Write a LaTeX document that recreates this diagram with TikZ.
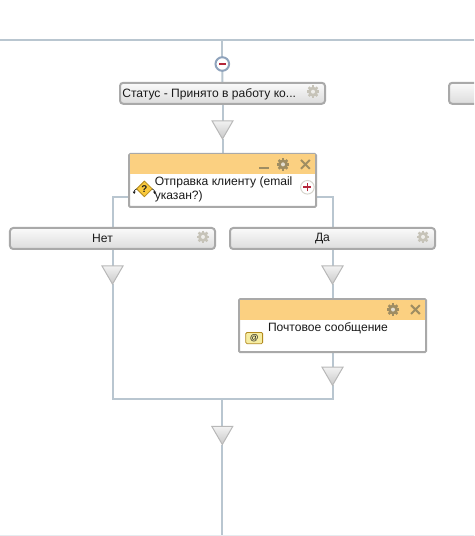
\documentclass[tikz,border=0pt]{standalone}
\usepackage{fontspec}
\setmainfont{Liberation Sans}
\usetikzlibrary{arrows.meta,positioning,shapes.geometric,calc,backgrounds}
\definecolor{ink}{HTML}{1A1A1A}
\definecolor{flowline}{HTML}{B9C6D0}
\definecolor{frame}{HTML}{A9A9A9}
\definecolor{headfill}{HTML}{FBD081}
\definecolor{gearlt}{HTML}{C6C3B8}
\definecolor{geardk}{HTML}{9F8D62}
\definecolor{btntop}{HTML}{FAFAFA}
\definecolor{btnbot}{HTML}{DCDCDC}
\definecolor{trifrm}{HTML}{B8B8B8}
\definecolor{tritop}{HTML}{F2F2F2}
\definecolor{tribot}{HTML}{C8C8C8}
\definecolor{redmark}{HTML}{B5263A}
\definecolor{minusrim}{HTML}{8FA3BC}
\definecolor{iconfill}{HTML}{F9C93C}
\definecolor{iconrim}{HTML}{B38A1E}
\definecolor{mailfill}{HTML}{F6EDA2}
\tikzset{
  txt/.style={font=\fontsize{8.6}{9.9}\selectfont, text=ink},
  button/.style={txt, draw=frame, line width=.5mm, rounded corners=.8mm, top color=btntop, bottom color=btnbot, minimum width=51.25mm, minimum height=5.25mm, inner sep=0pt, outer sep=0pt},
  actbox/.style={draw=frame, line width=.5mm, rounded corners=.3mm, fill=white, minimum width=46.75mm, minimum height=13.25mm, inner sep=0pt, outer sep=0pt},
  actbar/.style={fill=headfill, minimum width=46.25mm, minimum height=5mm, inner sep=0pt, outer sep=0pt},
  bodytxt/.style={txt, align=left, inner sep=0pt, outer sep=0pt},
  merge/.style={regular polygon, regular polygon sides=3, shape border rotate=180, minimum size=6.06mm, inner sep=0pt, outer sep=0pt, draw=trifrm, line width=.25mm, top color=tritop, bottom color=tribot},
  flow/.style={draw=flowline, line width=.5mm},
  minusbtn/.style={circle, draw=minusrim, line width=.5mm, fill=white, minimum size=3.4mm, inner sep=0pt, outer sep=0pt},
  plusbtn/.style={circle, draw=gearlt!70, line width=.25mm, fill=white, minimum size=3.4mm, inner sep=0pt, outer sep=0pt},
  askicon/.style={diamond, draw=iconrim, line width=.2mm, fill=iconfill, minimum size=3.9mm, inner sep=0pt, outer sep=0pt, font=\fontsize{7}{7}\selectfont\bfseries, text=ink},
  mailicon/.style={draw=iconrim, line width=.2mm, rounded corners=.3mm, fill=mailfill, minimum width=4.2mm, minimum height=2.8mm, inner sep=0pt, outer sep=0pt, font=\fontsize{6}{6}\selectfont\bfseries, text=ink},
  pics/gearicon/.style={code={
    \foreach \a in {0,45,...,135} \draw[#1, line width=.6mm] (\a:1.55mm)--(\a+180:1.55mm);
    \fill[#1] (0,0) circle (1.25mm);
    \fill[white!70!#1] (0,0) circle (.5mm);
  }},
  pics/closeicon/.style={code={
    \draw[geardk, line width=.5mm] (-1.1mm,-1.1mm)--(1.1mm,1.1mm) (-1.1mm,1.1mm)--(1.1mm,-1.1mm);
  }}
}
\begin{document}
\begin{tikzpicture}[x=.25mm,y=-.25mm]
\useasboundingbox (0,0) rectangle (474,536);
\clip (0,0) rectangle (474,536);
\coordinate (topl) at (0,40);
\coordinate (topr) at (474,40);
\coordinate (topm) at (222.3,40);
\coordinate (botl) at (0,535);
\coordinate (botr) at (474,535);
\node[minusbtn] (minus) at (222.3,64) {};
\node[button, below=3mm of minus, xshift=.05mm] (status) {};
\node[txt, inner sep=0pt, anchor=west] (statustxt) at ([xshift=.5mm,yshift=-.15mm]status.west) {Статус - Принято в работу ко...};
\node[button, right=31mm of status] (nextbtn) {};
\node[merge, below=4.25mm of status] (tristatus) {};
\node[actbox, below=3.75mm of tristatus] (cond) {};
\node[actbar, below=.1mm of cond.north] (condbar) {};
\node[bodytxt, below right=.65mm and 6.2mm of condbar.south west] (condtxt) {Отправка клиенту (email\\указан?)};
\node[button, below=5.25mm of cond, xshift=-27.5mm] (no) {\hspace*{0pt}Нет\hspace*{5mm}};
\node[button, right=3.75mm of no] (yes) {\hspace*{0pt}Да\hspace*{5mm}};
\node[merge, below=4.25mm of no] (trino) {};
\node[merge, below=4.25mm of yes] (triyes) {};
\node[actbox, below=3.75mm of triyes] (mail) {};
\node[actbar, below=.1mm of mail.north] (mailbar) {};
\node[bodytxt, below right=.65mm and 7mm of mailbar.south west] (mailtxt) {Почтовое сообщение};
\node[merge, below=3.75mm of mail] (trimail) {};
\coordinate[below=3.5mm of trimail] (joinr);
\coordinate (joinl) at (trino |- joinr);
\coordinate (joinm) at (minus |- joinr);
\node[merge, below=6.75mm of joinm] (tribot) {};
\coordinate (endm) at (tribot |- botr);
\coordinate (condl) at ($(cond.south west)+(0,2.5mm)$);
\coordinate (condr) at ($(cond.south east)+(0,2.5mm)$);
\begin{scope}[on background layer]
\draw[flow] (topl)--(topr);
\draw[draw=flowline!35, line width=.25mm] (botl)--(botr);
\draw[flow] (topm)--(minus);
\draw[flow] (minus)--(status);
\draw[flow] (status)--(tristatus);
\draw[flow] (tristatus)--(cond);
\draw[flow] (condl)-|(no.north);
\draw[flow] (condr)-|(yes.north);
\draw[flow] (no)--(trino);
\draw[flow] (yes)--(triyes);
\draw[flow] (triyes)--(mail);
\draw[flow] (mail)--(trimail);
\draw[flow, line join=miter] (trino)--(joinl)--(joinr)--(trimail);
\draw[flow] (joinm)--(tribot);
\draw[flow] (tribot)--(endm);
\end{scope}
% marks on the nodes
\draw[redmark, line width=.45mm] ([xshift=-.8mm]minus.center)--([xshift=.8mm]minus.center);
\pic at ([xshift=-3mm,yshift=.4mm]status.east) {gearicon=gearlt};
\pic at ([xshift=-3mm,yshift=.4mm]no.east) {gearicon=gearlt};
\pic at ([xshift=-3mm,yshift=.4mm]yes.east) {gearicon=gearlt};
\pic at ([xshift=-8mm]condbar.east) {gearicon=geardk};
\pic at ([xshift=-2.4mm]condbar.east) {closeicon};
\draw[geardk, line width=.5mm] ([xshift=-14mm,yshift=-.9mm]condbar.east)--([xshift=-11.6mm,yshift=-.9mm]condbar.east);
\pic at ([xshift=-8mm]mailbar.east) {gearicon=geardk};
\pic at ([xshift=-2.4mm]mailbar.east) {closeicon};
\node[plusbtn, left=.45mm of cond.east, yshift=-1.7mm] (plus) {};
\draw[redmark, line width=.45mm] ([xshift=-1mm]plus.center)--([xshift=1mm]plus.center) ([yshift=-1mm]plus.center)--([yshift=1mm]plus.center);
\node[askicon, right=1.9mm of cond.west, yshift=-2.1mm] (ask) {?};
\draw[ink, line width=.15mm, -{Latex[length=.6mm,width=.8mm]}] (ask.west) to[out=180,in=90] ++(-.6mm,-1.3mm);
\draw[ink, line width=.15mm, -{Latex[length=.6mm,width=.8mm]}] (ask.east) to[out=0,in=90] ++(.6mm,-1.3mm);
\node[mailicon, right=1.7mm of mail.west, yshift=-3.1mm] (mailsign) {@};
\end{tikzpicture}
\end{document}
